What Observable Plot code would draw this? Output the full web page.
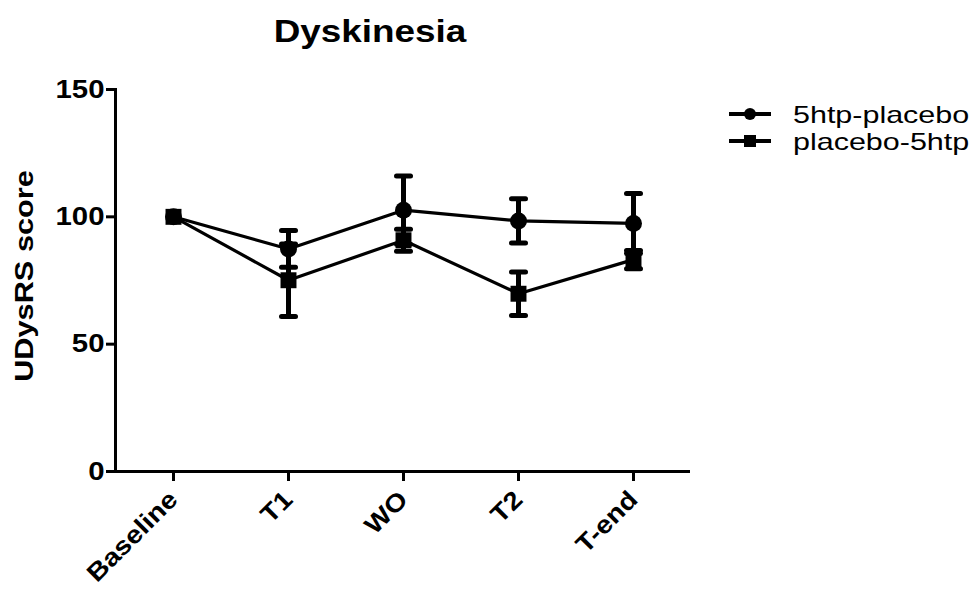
<!DOCTYPE html>
<html>
<head>
<meta charset="utf-8">
<script src="https://cdn.jsdelivr.net/npm/d3@7"></script>
<script src="https://cdn.jsdelivr.net/npm/@observablehq/plot@0.6"></script>
<style>
  html, body { margin: 0; padding: 0; background: #fff; }
  #wrap { position: relative; width: 976px; height: 590px; font-family: "Liberation Sans", Arial, sans-serif; }
  #overlay { position: absolute; left: 0; top: 0; pointer-events: none; }
</style>
</head>
<body>
<div id="wrap"></div>
<script>
// ---- data ----
const title = "Dyskinesia";
const yLabel = "UDysRS score";
const categories = ["Baseline", "T1", "WO", "T2", "T-end"];
const seriesNames = ["5htp-placebo", "placebo-5htp"];
const circleMean = [100, 87.4, 102.6, 98.4, 97.4];
const circleSem  = [0, 7.2, 13.4, 8.7, 11.8];
const squareMean = [100, 75.1, 90.8, 69.8, 83.2];
const squareSem  = [0, 14.2, 4.3, 8.5, 3.6];
const yTicks = [0, 50, 100, 150];

const FONT = '"Liberation Sans", Arial, sans-serif';

function rowsFor(name, means, sems) {
  return categories.map((c, i) => ({cat: c, series: name, mean: means[i], sem: sems[i]}));
}
const circleRows = rowsFor(seriesNames[0], circleMean, circleSem);
const squareRows = rowsFor(seriesNames[1], squareMean, squareSem);

// horizontal cap symbol for error bars
const capSymbol = {
  draw(context, size) {
    context.moveTo(-7, 0);
    context.lineTo(7, 0);
  }
};

function seriesMarks(rows, symbol, r) {
  const err = rows.filter(d => d.sem > 0);
  return [
    Plot.line(rows, {x: "cat", y: "mean", stroke: "black", strokeWidth: 3.2}),
    Plot.ruleX(err, {x: "cat", y1: d => d.mean - d.sem, y2: d => d.mean + d.sem, stroke: "black", strokeWidth: 5}),
    Plot.dot(err, {x: "cat", y: d => d.mean - d.sem, symbol: capSymbol, stroke: "black", strokeWidth: 5, strokeLinecap: "round", fill: "none"}),
    Plot.dot(err, {x: "cat", y: d => d.mean + d.sem, symbol: capSymbol, stroke: "black", strokeWidth: 5, strokeLinecap: "round", fill: "none"}),
    Plot.dot(rows, {x: "cat", y: "mean", symbol, r, fill: "black", stroke: "none"})
  ];
}

const chart = Plot.plot({
  width: 976,
  height: 590,
  marginLeft: 115,
  marginRight: 286,
  marginTop: 89,
  marginBottom: 119,
  style: {fontFamily: FONT, background: "white", color: "black", overflow: "visible"},
  x: {type: "point", domain: categories, padding: 0.5},
  y: {domain: [0, 150]},
  marks: [
    Plot.axisY({ticks: yTicks, tickSize: 9, tickPadding: 2, strokeWidth: 3, fontSize: 26, fontWeight: "bold", label: null}),
    Plot.axisX({tickSize: 10, tickPadding: 14, tickRotate: -45, strokeWidth: 3, fontSize: 25, fontWeight: "bold", label: null}),
    Plot.frame({anchor: "left", strokeWidth: 3, stroke: "black"}),
    Plot.ruleY([0], {stroke: "black", strokeWidth: 3}),
    ...seriesMarks(circleRows, "circle", 8.5),
    ...seriesMarks(squareRows, "square", 9)
  ]
});

// stretch tick labels slightly (the source font is wider than Arial)
d3.select(chart).selectAll('g[aria-label="y-axis tick label"] text, g[aria-label="x-axis tick label"] text')
  .each(function () {
    const t = this.getAttribute("transform") || "";
    this.setAttribute("transform", t + " scale(1.13,1)");
  });

const wrap = document.getElementById("wrap");
wrap.appendChild(chart);

// overlay: title, y label, legend
const ov = d3.select(wrap).append("svg").attr("id", "overlay").attr("width", 976).attr("height", 590)
  .style("font-family", FONT);

ov.append("text").text(title)
  .attr("transform", "translate(370,42) scale(1.19,1)")
  .attr("text-anchor", "middle").attr("font-size", 31).attr("font-weight", "bold");

ov.append("text").text(yLabel)
  .attr("transform", "translate(33,276) rotate(-90) scale(1.2,1)")
  .attr("text-anchor", "middle").attr("font-size", 25.6).attr("font-weight", "bold");

const legendY = [114, 141];
seriesNames.forEach((name, i) => {
  const g = ov.append("g").attr("transform", `translate(0,${legendY[i]})`);
  g.append("line").attr("x1", 729).attr("x2", 771).attr("y1", 0).attr("y2", 0)
    .attr("stroke", "black").attr("stroke-width", 4);
  if (i === 0) g.append("circle").attr("cx", 750).attr("cy", 0).attr("r", 6).attr("fill", "black");
  else g.append("rect").attr("x", 744).attr("y", -6).attr("width", 12).attr("height", 12).attr("fill", "black");
  g.append("text").text(name)
    .attr("transform", "translate(793,9) scale(1.27,1)")
    .attr("font-size", 24);
});
</script>
</body>
</html>
